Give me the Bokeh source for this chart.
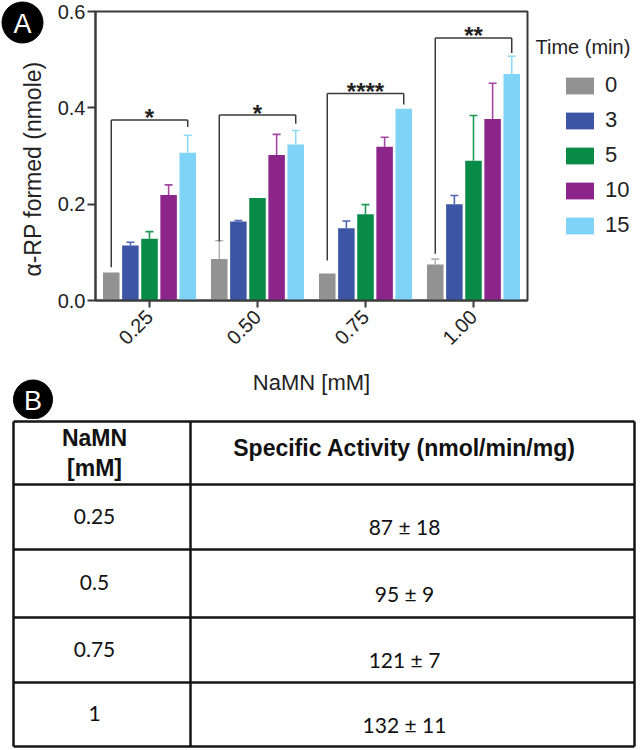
import math
from bokeh.plotting import figure
from bokeh.models import (FactorRange, Range1d, FixedTicker, NumeralTickFormatter, Legend,
                          LegendItem, Whisker, TeeHead, ColumnDataSource)
from bokeh.transform import dodge
from bokeh.layouts import column, row
from bokeh.core.properties import value
from bokeh.embed import file_html
from bokeh.resources import INLINE

# ---------------- data ----------------
concentrations = ["0.25", "0.50", "0.75", "1.00"]
times = ["0", "3", "5", "10", "15"]
mean_0 = [0.058, 0.086, 0.056, 0.075]
err_0 = [0.0, 0.038, 0.0, 0.011]
mean_3 = [0.114, 0.164, 0.150, 0.200]
err_3 = [0.007, 0.002, 0.015, 0.018]
mean_5 = [0.128, 0.213, 0.179, 0.290]
err_5 = [0.015, 0.0, 0.020, 0.094]
mean_10 = [0.219, 0.302, 0.319, 0.377]
err_10 = [0.021, 0.043, 0.020, 0.074]
mean_15 = [0.307, 0.324, 0.398, 0.470]
err_15 = [0.036, 0.029, 0.0, 0.037]

sig_labels = ["*", "*", "****", "**"]
bracket_top = [0.375, 0.385, 0.430, 0.545]
bracket_left_end = [0.069, 0.123, 0.083, 0.097]
bracket_right_end = [0.360, 0.367, 0.407, 0.514]

y_ticks = [0.0, 0.2, 0.4, 0.6]
y_title = "α-RP formed (nmole)"
x_title = "NaMN [mM]"
legend_title = "Time (min)"
panel_letters = ["A", "B"]

table_header = ["NaMN", "[mM]", "Specific Activity (nmol/min/mg)"]
table_namn = ["0.25", "0.5", "0.75", "1"]
table_activity = ["87 ± 18", "95 ± 9", "121 ± 7", "132 ± 11"]

# ---------------- styles ----------------
FONT_NAME = "Liberation Sans"
FONT = value(FONT_NAME)
colors = ["#929292", "#3c56a5", "#088b47", "#8c258a", "#7ed3f6"]
err_colors = ["#b4b4b4", "#4e66b3", "#1f9a56", "#a447a2", "#8fdaf7"]
AX = "#3a3a3a"
TXT = "#222222"

TOTAL_W = 636
H1 = 419          # height of the chart row
LW = 54           # left strip (badges + y title)
CW = 475          # chart figure width
LEGW = TOTAL_W - LW - CW
FL_LOCAL = 93 - LW
FT = 11
FB = 300


def blank(width, height):
    f = figure(width=width, height=height, x_range=Range1d(0, width),
               y_range=Range1d(height, 0), output_backend="svg", toolbar_location=None,
               min_border=0, min_border_left=0, min_border_right=0, min_border_top=0,
               min_border_bottom=0, x_axis_location=None, y_axis_location=None)
    f.outline_line_color = None
    f.xgrid.visible = False
    f.ygrid.visible = False
    f.frame_align = False
    return f


# ---------------- left strip: badges + y title ----------------
left = blank(LW, H1)
left.scatter(x=[22, 32.5], y=[22, 399], size=[41, 39], marker="circle",
             fill_color="black", line_color="black")
left.text(x=[22, 32.5], y=[23, 400], text=panel_letters, text_align="center",
          text_baseline="middle", text_font=FONT, text_font_size="27px",
          text_color="white")
left.text(x=[32.5], y=[168.5], text=[y_title], angle=math.pi / 2,
          text_align="center", text_baseline="middle", text_font=FONT,
          text_font_size="23px", text_color=TXT)

# ---------------- chart ----------------
p = figure(width=CW, height=H1, x_range=FactorRange(factors=concentrations),
           y_range=Range1d(0, 0.6), output_backend="svg", toolbar_location=None,
           min_border_left=FL_LOCAL, min_border_right=2, min_border_top=FT,
           min_border_bottom=H1 - FB)
p.frame_align = False
p.xgrid.visible = False
p.ygrid.visible = False
p.outline_line_color = AX
p.outline_line_width = 2

step = 0.177
bar_w = 0.153
offsets = [(i - 2) * step for i in range(5)]
means = [mean_0, mean_3, mean_5, mean_10, mean_15]
errs = [err_0, err_3, err_5, err_10, err_15]

for k in range(5):
    src = ColumnDataSource(dict(cat=concentrations, m=means[k]))
    p.vbar(x=dodge("cat", offsets[k], range=p.x_range), top="m", width=bar_w,
           source=src, fill_color=colors[k], line_color=None)
    idx = [i for i in range(4) if errs[k][i] > 0]
    esrc = ColumnDataSource(dict(cat=[concentrations[i] for i in idx],
                                 lo=[means[k][i] for i in idx],
                                 hi=[means[k][i] + errs[k][i] for i in idx]))
    wk = Whisker(base=dodge("cat", offsets[k], range=p.x_range), lower="lo", upper="hi",
                 source=esrc, dimension="height", line_color=err_colors[k], line_width=1.6,
                 lower_head=None,
                 upper_head=TeeHead(size=8, line_color=err_colors[k], line_width=1.6),
                 level="underlay")
    p.add_layout(wk)

# significance brackets
bsrc = ColumnDataSource(dict(cat=concentrations, top=bracket_top, lend=bracket_left_end,
                             rend=bracket_right_end, sig=sig_labels))
for (a, b, y0, y1) in [(0, 4, "top", "top"), (0, 0, "top", "lend"), (4, 4, "top", "rend")]:
    p.segment(x0=dodge("cat", offsets[a], range=p.x_range), y0=y0,
              x1=dodge("cat", offsets[b], range=p.x_range), y1=y1,
              source=bsrc, line_color=AX, line_width=1.5)
p.text(x="cat", y="top", text="sig", source=bsrc, text_align="center",
       text_baseline="middle", y_offset=-2, text_font=FONT, text_font_style="bold",
       text_font_size="24px", text_color=TXT)

# axes
p.yaxis.ticker = FixedTicker(ticks=y_ticks)
p.yaxis.formatter = NumeralTickFormatter(format="0.0")
p.xaxis.axis_label = x_title
for ax in (p.xaxis[0], p.yaxis[0]):
    ax.axis_line_color = AX
    ax.axis_line_width = 2
    ax.major_tick_line_color = AX
    ax.major_tick_line_width = 2
    ax.major_tick_in = 0
    ax.minor_tick_line_color = None
    ax.major_label_text_font = FONT_NAME
    ax.major_label_text_font_size = "20px"
    ax.major_label_text_color = TXT
    ax.axis_label_text_font = FONT_NAME
    ax.axis_label_text_font_size = "22px"
    ax.axis_label_text_font_style = "normal"
    ax.axis_label_text_color = TXT
p.yaxis.major_tick_out = 8
p.yaxis.major_label_standoff = 2
p.xaxis.major_tick_out = 7
p.xaxis.major_label_orientation = math.pi / 4
p.xaxis.major_label_standoff = 6
p.xaxis.axis_label_standoff = 16

# ---------------- legend strip ----------------
lg = blank(LEGW, H1)
lg.text(x=[6], y=[46], text=[legend_title], text_align="left", text_baseline="middle",
        text_font=FONT, text_font_size="20px", text_color=TXT)
items = []
for k in range(5):
    r = lg.vbar(x=[0], top=[0], bottom=[0], width=0.001, fill_color=colors[k],
                line_color=None)
    items.append(LegendItem(label=times[k], renderers=[r]))
legend = Legend(items=items, location=(33, H1 - 238), orientation="vertical",
                glyph_width=35, glyph_height=21, label_height=21, label_width=20,
                spacing=9, label_standoff=8, padding=0, margin=0,
                border_line_color=None, background_fill_alpha=0,
                label_text_font=FONT_NAME, label_text_font_size="22px",
                label_text_color=TXT)
lg.add_layout(legend)

# ---------------- table ----------------
H2 = 748 - H1
t = blank(TOTAL_W, H2)
row_lines = [2, 65, 130, 198, 263, 327]
col_lines = [13, 190, 634]
t.segment(x0=[col_lines[0]] * len(row_lines), x1=[col_lines[-1]] * len(row_lines),
          y0=row_lines, y1=row_lines, line_color="#151515", line_width=2.5)
t.segment(x0=col_lines, x1=col_lines, y0=[row_lines[0]] * 3, y1=[row_lines[-1]] * 3,
          line_color="#151515", line_width=2.5)

c1 = 94
c2 = 404
t.text(x=[c1, c1, c2], y=[18, 48, 28], text=table_header,
       text_align="center", text_baseline="middle", text_font=FONT,
       text_font_style="bold", text_font_size="23px", text_color="#111111")
centers = [(row_lines[i + 1] + row_lines[i + 2]) / 2 for i in range(4)]
t.text(x=[c1] * 4, y=[c - 1 for c in centers], text=table_namn,
       text_align="center", text_baseline="middle", text_font=value("Lato"),
       text_font_size="21px", text_color="#111111")
t.text(x=[c2] * 4, y=[c + 9.5 for c in centers], text=table_activity,
       text_align="center", text_baseline="middle", text_font=value("Lato"),
       text_font_size="21px", text_color="#111111")

layout = column(row(left, p, lg), t)
open("out.html", "w").write(file_html(layout, INLINE))
